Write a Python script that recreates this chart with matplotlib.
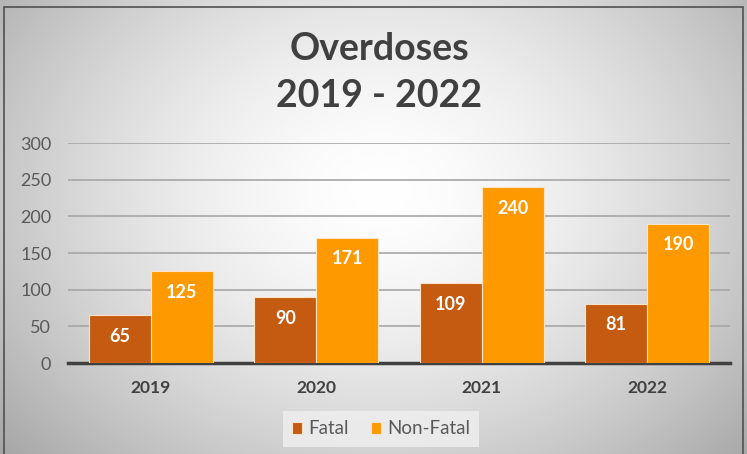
import matplotlib.pyplot as plt
import numpy as np
from matplotlib.patches import Rectangle

# --- data ---
years = ['2019', '2020', '2021', '2022']
fatal = [65, 90, 109, 81]
non_fatal = [125, 171, 240, 190]

FATAL_C = '#C55A11'
NONFATAL_C = '#FF9900'
TEXT_C = '#595959'
TITLE_C = '#404040'

plt.rcParams['font.family'] = ['Lato', 'DejaVu Sans']

fig = plt.figure(figsize=(7.47, 4.54), dpi=100)

# radial gradient background
bg = fig.add_axes([0, 0, 1, 1], zorder=0)
bg.set_axis_off()
yy, xx = np.mgrid[0:454, 0:747]
r = np.sqrt(((xx - 380) / 420.0) ** 2 + ((yy - 190) / 330.0) ** 2)
shade = 1.0 - 0.26 * np.clip(r, 0, 1.2) ** 1.6
bg.imshow(np.dstack([shade] * 3), aspect='auto', extent=[0, 1, 0, 1], origin='upper')
bg.set_xlim(0, 1)
bg.set_ylim(0, 1)
bg.add_patch(Rectangle((4 / 747, -0.01), 739 / 747, 1 - 7 / 454 + 0.01,
                       fill=False, edgecolor='#505050', linewidth=1.2))

ax = fig.add_axes([68 / 747, 1 - 363 / 454, 662 / 747, 220 / 454], zorder=1)
ax.patch.set_alpha(0)

x = np.arange(len(years))
w = 0.375
b1 = ax.bar(x - w / 2, fatal, w, color=FATAL_C, edgecolor='#FBE3C8', linewidth=0.8,
            label='Fatal', zorder=3)
b2 = ax.bar(x + w / 2, non_fatal, w, color=NONFATAL_C, edgecolor='#FBE3C8', linewidth=0.8,
            label='Non-Fatal', zorder=3)

for bars in (b1, b2):
    for b in bars:
        h = b.get_height()
        ax.text(b.get_x() + b.get_width() / 2, h - 29, f'{int(h)}', ha='center', va='center',
                color='white', fontsize=13, fontweight='bold', zorder=4)

ax.set_xlim(-0.5, 3.5)
ax.set_ylim(0, 300)
ax.set_yticks(range(0, 301, 50))
ax.set_xticks(x)
ax.set_xticklabels(years, fontsize=12.5, fontweight='bold', color=TITLE_C)
ax.tick_params(axis='y', labelsize=13, colors=TEXT_C, length=0, pad=12)
ax.tick_params(axis='x', length=0, pad=12)
ax.grid(axis='y', color='#A6A6A6', linewidth=1.2, zorder=0)
for s in ['top', 'right', 'left']:
    ax.spines[s].set_visible(False)
ax.spines['bottom'].set_color('#404040')
ax.spines['bottom'].set_linewidth(2.5)

fig.text(0.508, 1 - 49 / 454, 'Overdoses', ha='center', va='center', fontsize=27,
         fontweight='bold', color=TITLE_C)
fig.text(0.508, 1 - 96 / 454, '2019 - 2022', ha='center', va='center', fontsize=27,
         fontweight='bold', color=TITLE_C)

leg = fig.legend(loc='center', bbox_to_anchor=(381 / 747, 1 - 429 / 454), ncol=2,
                 fontsize=13.5, frameon=True, fancybox=False, handlelength=0.55,
                 handleheight=0.55, handletextpad=0.3, columnspacing=1.2,
                 borderpad=0.5)
leg.get_frame().set_facecolor('#EDEDED')
leg.get_frame().set_edgecolor('none')
leg.get_frame().set_alpha(0.9)
for t in leg.get_texts():
    t.set_color(TEXT_C)

fig.savefig('out.png', dpi=100)
